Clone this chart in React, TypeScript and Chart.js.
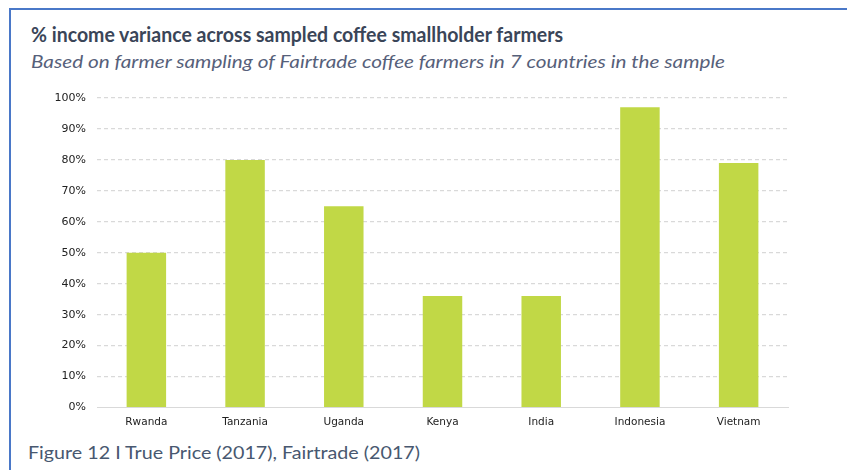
import React, { useEffect, useRef } from "react";
import { Chart, registerables } from "chart.js";

Chart.register(...registerables);

const categories = ["Rwanda", "Tanzania", "Uganda", "Kenya", "India", "Indonesia", "Vietnam"];
const incomeVariance = [50, 80, 65, 36, 36, 97, 79];
const yTicks = [0, 10, 20, 30, 40, 50, 60, 70, 80, 90, 100];

const titleText = "% income variance across sampled coffee smallholder farmers";
const subtitleText = "Based on farmer sampling of Fairtrade coffee farmers in 7 countries in the sample";
const captionText = "Figure 12 I True Price (2017), Fairtrade (2017)";

export default function App() {
  const ref = useRef<HTMLCanvasElement | null>(null);

  useEffect(() => {
    if (!ref.current) return;
    const chart = new Chart(ref.current, {
      type: "bar",
      data: {
        labels: categories,
        datasets: [
          {
            data: incomeVariance,
            backgroundColor: "#C1D846",
            borderWidth: 0,
            barPercentage: 0.4,
            categoryPercentage: 1,
          },
        ],
      },
      options: {
        responsive: false,
        animation: false,
        layout: { padding: { top: 20, right: 12, bottom: 0, left: 0 } },
        plugins: { legend: { display: false }, tooltip: { enabled: false } },
        scales: {
          x: {
            grid: { display: false, drawTicks: false },
            border: { display: true, color: "#D9D9D9", width: 1 },
            ticks: {
              padding: 8,
              color: "#222222",
              font: { family: "DejaVu Sans", size: 10.5 },
              maxRotation: 0,
            },
            afterFit: (s: any) => {
              s.height = 27.5;
            },
          },
          y: {
            min: 0,
            max: 100,
            afterBuildTicks: (s: any) => {
              s.ticks = yTicks.map((v) => ({ value: v }));
            },
            grid: {
              drawTicks: false,
              color: (ctx: any) => (ctx.tick && ctx.tick.value === 0 ? "rgba(0,0,0,0)" : "#D9D9D9"),
              lineWidth: 1.2,
            },
            border: { display: false, dash: [4, 3] },
            ticks: {
              padding: 11,
              color: "#222222",
              font: { family: "DejaVu Sans", size: 11 },
              callback: (v: any) => v + "%",
            },
            afterFit: (s: any) => {
              s.width = 77;
            },
          },
        },
      },
    });
    return () => chart.destroy();
  }, []);

  return (
    <div style={{ position: "fixed", left: 0, top: 0, width: 847, height: 470, background: "#fff", overflow: "hidden" }}>
      <svg width={847} height={470} style={{ position: "absolute", left: 0, top: 0 }}>
        <rect x={9} y={8} width={900} height={2} fill="#4A78C8" />
        <rect x={9} y={8} width={2} height={470} fill="#4A78C8" />
        <text
          x={31}
          y={42}
          textLength={532}
          lengthAdjust="spacingAndGlyphs"
          fill="#3A4558"
          style={{ font: "bold 20px Lato" }}
        >
          {titleText}
        </text>
        <text
          x={31}
          y={67.5}
          textLength={694}
          lengthAdjust="spacingAndGlyphs"
          fill="#56607A"
          style={{ font: "italic 17.5px Lato" }}
        >
          {subtitleText}
        </text>
        <text
          x={28}
          y={458.7}
          textLength={392}
          lengthAdjust="spacingAndGlyphs"
          fill="#485870"
          style={{ font: "17.5px Lato" }}
        >
          {captionText}
        </text>
      </svg>
      <canvas
        ref={ref}
        width={780}
        height={357}
        style={{ position: "absolute", left: 20, top: 78, width: 780, height: 357 }}
      />
    </div>
  );
}
